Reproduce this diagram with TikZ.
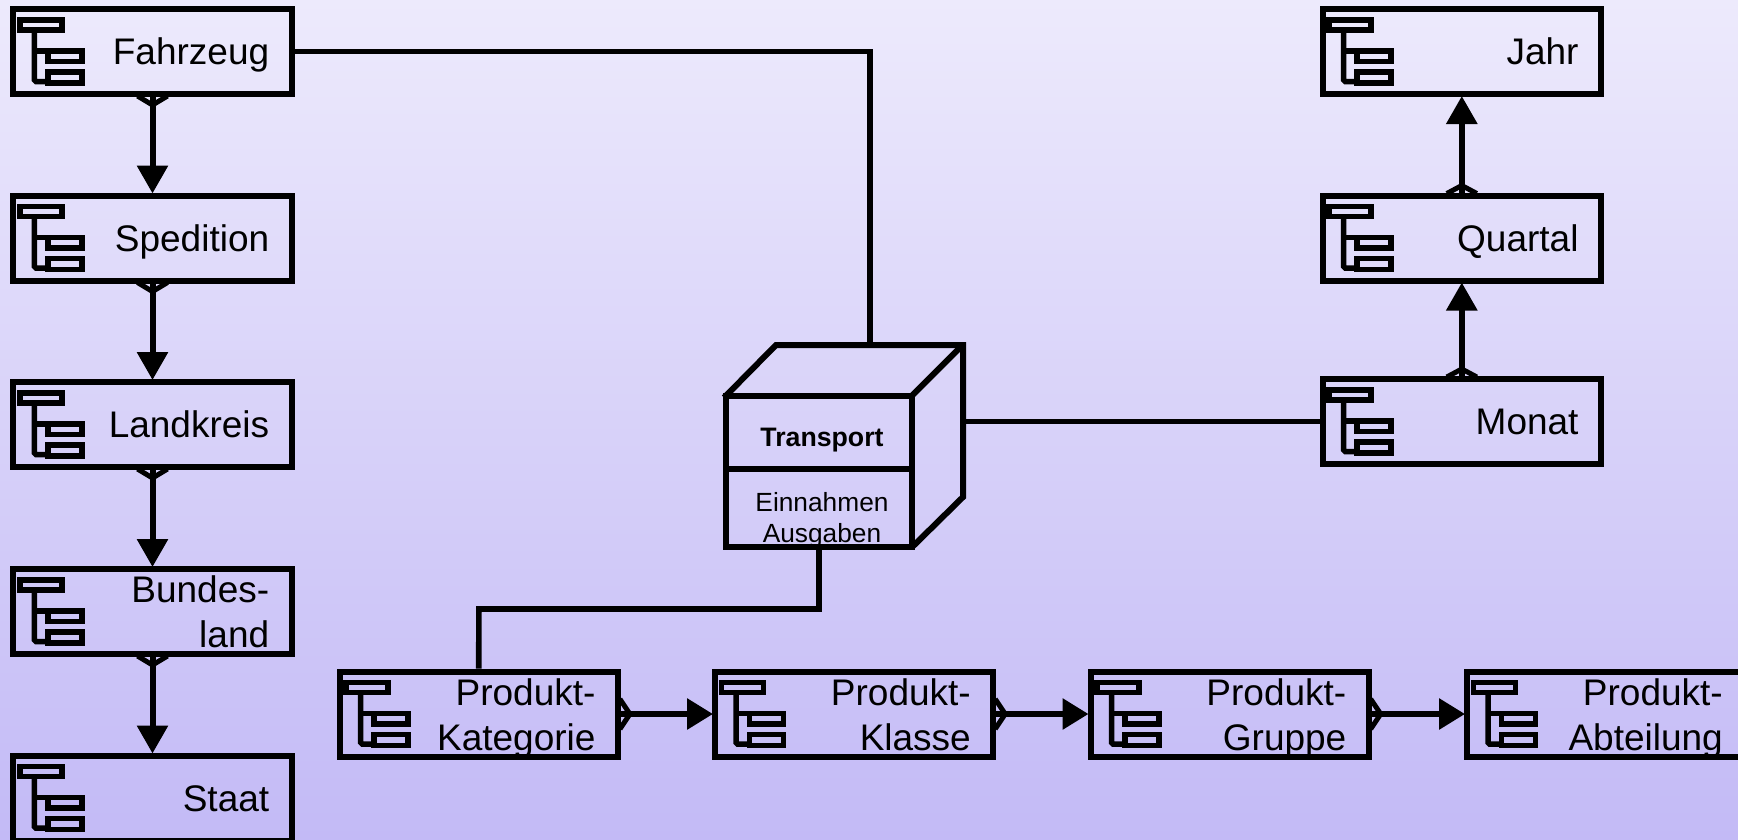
\documentclass[tikz,border=0pt]{standalone}
\usepackage{fontspec}
\setmainfont{Liberation Sans}
\usetikzlibrary{arrows.meta,calc}
\tikzset{
  dimbox/.style={draw=black,line width=6pt,minimum width=278.2pt,minimum height=85pt,inner sep=0pt,rectangle},
  dimtext/.style={anchor=base east,inner sep=0pt,align=right,font=\fontsize{37pt}{45pt}\selectfont},
  iconline/.style={draw=black,line width=5.5pt},
  conn/.style={draw=black,line width=5.7pt},
  hier/.style={draw=black,line width=6pt,shorten >=-1pt,-{Triangle[length=28pt,width=30pt]}},
  hhier/.style={draw=black,line width=6pt,shorten >=-1pt,-{Triangle[length=26pt,width=30pt]}},
  crow/.style={draw=black,line width=5pt,miter limit=10},
  cubeline/.style={draw=black,line width=6pt,line join=miter},
  cubetext/.style={inner sep=0pt,anchor=base,font=\fontsize{26.3pt}{31pt}\selectfont}
}
% name, x, y of top-left corner, label, baseline offset
\newcommand{\dimnode}[5]{%
  \node[dimbox] (#1) at (#2+139.1,#3+42.5) {};
  \node[dimtext] (#1t) at (#2+256,#3+#5) {#4};
  \begin{scope}[shift={(#2,#3)}]
    \draw[iconline] (6.5,11) rectangle (48.5,21);
    \draw[iconline] (34.5,42) rectangle (68.5,52.5);
    \draw[iconline] (34.5,63) rectangle (68.5,74);
    \draw[iconline,rounded corners=1.5pt] (21,21) -- (21,72.5) -- (34.5,72.5);
    \draw[iconline] (21,42) -- (34.5,42);
  \end{scope}
}
\newcommand{\crowdown}[1]{\draw[crow] ([shift={(-15,-1)}]#1.south) -- ([shift={(0,8)}]#1.south) -- ([shift={(15,-1)}]#1.south);}
\newcommand{\crowup}[1]{\draw[crow] ([shift={(-15,1)}]#1.north) -- ([shift={(0,-7)}]#1.north) -- ([shift={(15,1)}]#1.north);}
\newcommand{\crowright}[1]{\draw[crow] ([shift={(-1,-15)}]#1.east) -- ([shift={(9,0)}]#1.east) -- ([shift={(-1,15)}]#1.east);}
\begin{document}
\begin{tikzpicture}[x=1pt,y=-1pt]
\useasboundingbox (0,0) rectangle (1738,839);
\clip (0,0) rectangle (1738,839);
\shade[top color={rgb,255:red,237;green,234;blue,252},bottom color={rgb,255:red,195;green,186;blue,246}] (0,0) rectangle (1738,839);

\dimnode{fz}{13.4}{9}{Fahrzeug}{55.5}
\dimnode{sp}{13.4}{195.5}{Spedition}{55.5}
\dimnode{lk}{13.4}{382}{Landkreis}{55.5}
\dimnode{bl}{13.4}{569}{Bundes-\\land}{78.5}
\dimnode{st}{13.4}{755.5}{Staat}{55.5}

\dimnode{ja}{1322.7}{9}{Jahr}{55.5}
\dimnode{qu}{1322.7}{195.5}{Quartal}{55.5}
\dimnode{mo}{1322.7}{379}{Monat}{55.5}

\dimnode{ka}{339.7}{671.5}{Produkt-\\Kategorie}{78.5}
\dimnode{kl}{715}{671.5}{Produkt-\\Klasse}{78.5}
\dimnode{gr}{1090.5}{671.5}{Produkt-\\Gruppe}{78.5}
\dimnode{ab}{1467}{671.5}{Produkt-\\Abteilung}{78.5}

% cube
\node[draw=black,line width=6pt,minimum width=186pt,minimum height=151.5pt,inner sep=0pt] (cube) at (819,471.4) {};
\draw[cubeline] (724,397.7) -- (776,345) -- (963,345) -- (963,497) -- (912,547.2);
\draw[cubeline] (912,395.7) -- (961,346.7);
\coordinate (cubetop) at (870,345);
\coordinate (cuberight) at (963,421.5);
\coordinate (elbow) at (478.9,609);
\draw[cubeline] (726,469) -- (912,469);
\node[cubetext,font=\fontsize{26.7pt}{31pt}\selectfont\bfseries] (cubename) at (822,446.7) {Transport};
\node[cubetext] (cubem1) at (822,511) {Einnahmen};
\node[cubetext] (cubem2) at (822,542) {Ausgaben};

% connectors
\draw[conn] (fz.east) -| (cubetop);
\draw[conn] (cuberight) -- (mo.west);
\draw[conn] (cube.south) |- (elbow) -- (ka.north);

\draw[hier] (fz.south) -- (sp.north); \crowdown{fz}
\draw[hier] (sp.south) -- (lk.north); \crowdown{sp}
\draw[hier] (lk.south) -- (bl.north); \crowdown{lk}
\draw[hier] (bl.south) -- (st.north); \crowdown{bl}
\draw[hier] (qu.north) -- (ja.south); \crowup{qu}
\draw[hier] (mo.north) -- (qu.south); \crowup{mo}
\draw[hhier] (ka.east) -- (kl.west); \crowright{ka}
\draw[hhier] (kl.east) -- (gr.west); \crowright{kl}
\draw[hhier] (gr.east) -- (ab.west); \crowright{gr}
\end{tikzpicture}
\end{document}
